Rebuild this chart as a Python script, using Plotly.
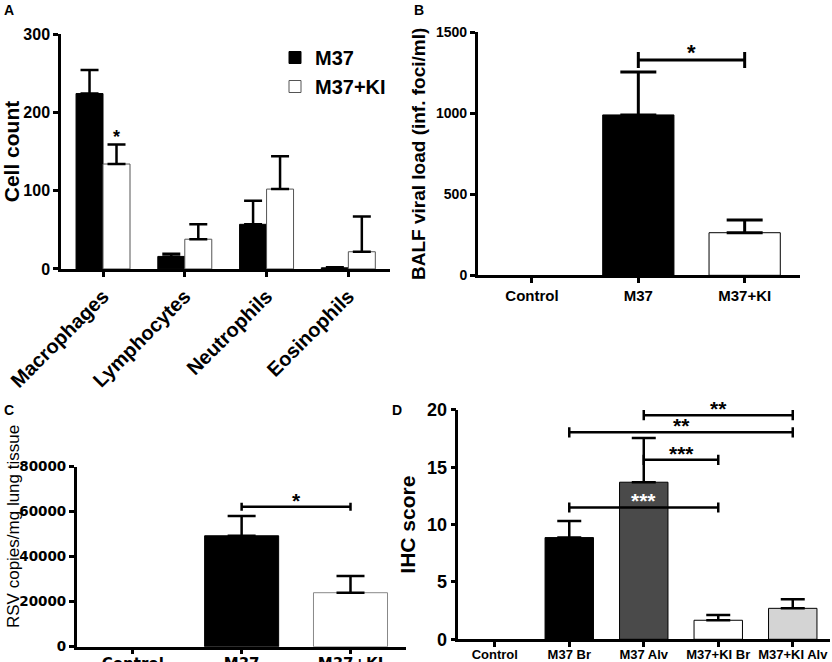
import plotly.graph_objects as go

# ---- data ----
# Panel A: BAL cell counts
a_cells = ["Macrophages", "Lymphocytes", "Neutrophils", "Eosinophils"]
a_m37 = [224, 16, 57, 1.5]
a_m37_err = [30, 3.5, 30, 0.8]
a_ki = [134, 38, 102, 22]
a_ki_err = [25, 19, 42, 45]

# Panel B: BALF viral load
b_groups = ["Control", "M37", "M37+KI"]
b_vals = [0, 990, 263]
b_err = [0, 265, 78]
b_sig = [("M37", "M37+KI", 1329, "*")]

# Panel C: RSV copies per mg lung tissue
c_groups = ["Control", "M37", "M37+KI"]
c_vals = [0, 49300, 24000]
c_err = [0, 8800, 7400]
c_sig = [("M37", "M37+KI", 62200, "*")]

# Panel D: IHC score
d_groups = ["Control", "M37 Br", "M37 Alv", "M37+KI Br", "M37+KI Alv"]
d_vals = [0, 8.87, 13.7, 1.66, 2.7]
d_err = [0, 1.45, 3.85, 0.46, 0.79]
d_colors = ["black", "black", "#4a4a4a", "white", "#d4d4d4"]
d_sig = [
    ("M37 Alv", "M37+KI Alv", 19.55, "**"),
    ("M37 Br", "M37+KI Alv", 18.05, "**"),
    ("M37 Alv", "M37+KI Br", 15.65, "***"),
    ("M37 Br", "M37+KI Br", 11.5, "***"),
]

BOLD = dict(family="Liberation Sans, Arial, sans-serif", color="black", weight="bold")


def nz(vals):
    # zero bars (Control) are not drawn at all
    return [v if v > 0 else None for v in vals]


def up_err(errs, **kw):
    # GraphPad style: upper error only
    return dict(type="data", array=errs, arrayminus=[0] * len(errs), symmetric=False,
                color="black", **kw)


fig = go.Figure()

# ---- panel A ----
fig.add_trace(go.Bar(
    x=a_cells, y=a_m37, name="M37", xaxis="x", yaxis="y",
    width=0.33, offset=-0.33,
    marker=dict(color="black", line=dict(color="black", width=1)),
    error_y=up_err(a_m37_err, thickness=2.5, width=9),
))
fig.add_trace(go.Bar(
    x=a_cells, y=a_ki, name="M37+KI", xaxis="x", yaxis="y",
    width=0.33, offset=0,
    marker=dict(color="white", line=dict(color="#555", width=1)),
    error_y=up_err(a_ki_err, thickness=2.5, width=9),
))

# ---- panel B ----
fig.add_trace(go.Bar(
    x=b_groups, y=nz(b_vals), xaxis="x2", yaxis="y2", width=0.67, showlegend=False,
    marker=dict(color=["black", "black", "white"], line=dict(color="black", width=1)),
    error_y=up_err(b_err, thickness=3, width=18),
))

# ---- panel C ----
fig.add_trace(go.Bar(
    x=c_groups, y=nz(c_vals), xaxis="x3", yaxis="y3", width=0.68, showlegend=False,
    marker=dict(color=["black", "black", "white"],
                line=dict(color=["black", "black", "#888"], width=1)),
    error_y=up_err(c_err, thickness=2.5, width=14),
))

# ---- panel D ----
fig.add_trace(go.Bar(
    x=d_groups, y=nz(d_vals), xaxis="x4", yaxis="y4", width=0.65, showlegend=False,
    marker=dict(color=d_colors, line=dict(color="black", width=1)),
    error_y=up_err(d_err, thickness=2.5, width=12),
))


def add_brackets(sigs, cats, xa, ya, half, size, lw, star_colors=None):
    for i, (c1, c2, h, txt) in enumerate(sigs):
        fig.add_trace(go.Scatter(
            x=[c1, c1, None, c1, c2, None, c2, c2],
            y=[h - half, h + half, None, h, h, None, h - half, h + half],
            mode="lines", line=dict(color="black", width=lw),
            xaxis=xa, yaxis=ya, showlegend=False, hoverinfo="skip",
        ))
        col = star_colors[i] if star_colors else "black"
        fig.add_annotation(
            x=(cats.index(c1) + cats.index(c2)) / 2, y=h,
            xref=xa, yref=ya, text=txt, showarrow=False,
            yanchor="bottom", yshift=-7,
            font=dict(size=size, family=BOLD["family"], color=col, weight="bold"),
        )


add_brackets(b_sig, b_groups, "x2", "y2", 50, 22, 3)
add_brackets(c_sig, c_groups, "x3", "y3", 1780, 21, 2.5)
add_brackets(d_sig, d_groups, "x4", "y4", 0.44, 21, 2.5,
             star_colors=["black", "black", "black", "white"])

# star above KI macrophages
fig.add_annotation(x=0.165, y=a_ki[0] + a_ki_err[0], xref="x", yref="y", text="*",
                   showarrow=False, yanchor="bottom", yshift=-5,
                   font=dict(size=18, family=BOLD["family"], color="black", weight="bold"))

# panel C y title sits above the axis centre in the original
fig.add_annotation(x=13 / 832, y=1 - 527 / 662, xref="paper", yref="paper",
                   xanchor="center", yanchor="middle",
                   text="RSV copies/mg lung tissue", textangle=-90, showarrow=False,
                   font=dict(size=17, family="Liberation Sans, Arial", color="black"))

# panel letters
for letter, px, py in [("A", 2, 10), ("B", 412, 10), ("C", 2, 410), ("D", 390, 410)]:
    fig.add_annotation(x=px / 832, y=1 - py / 662, xref="paper", yref="paper",
                       text=letter, showarrow=False, xanchor="left", yanchor="middle",
                       font=dict(size=14, family=BOLD["family"], color="black", weight="bold"))

axis_common = dict(showline=True, linecolor="black", linewidth=2.5, ticks="outside",
                   tickcolor="black", tickwidth=2.5, ticklen=5, showgrid=False,
                   zeroline=False, fixedrange=True, automargin=False)

fig.update_layout(
    width=832, height=662,
    margin=dict(l=0, r=0, t=0, b=0),
    plot_bgcolor="white", paper_bgcolor="white",
    barmode="overlay",
    legend=dict(x=275 / 832, y=1 - 38 / 662, xanchor="left", yanchor="top",
                font=dict(size=20, **BOLD), bgcolor="rgba(0,0,0,0)", tracegroupgap=0),
    xaxis=dict(domain=[0.0733, 0.4688], anchor="y", type="category", range=[-0.514, 3.51],
               tickangle=-45, tickfont=dict(size=20, **BOLD), **axis_common),
    yaxis=dict(domain=[0.5937, 0.9486], anchor="x", range=[0, 300], tickvals=[0, 100, 200, 300],
               tickfont=dict(size=16, **BOLD),
               title=dict(text="Cell count", font=dict(size=21, **BOLD), standoff=8), **axis_common),
    xaxis2=dict(domain=[0.5742, 0.9615], anchor="y2", type="category", range=[-0.51, 2.52],
                tickfont=dict(size=15, **BOLD), **axis_common),
    yaxis2=dict(domain=[0.5841, 0.9512], anchor="x2", range=[0, 1500], tickvals=[0, 500, 1000, 1500],
                tickfont=dict(size=14, **BOLD),
                title=dict(text="BALF viral load (inf. foci/ml)", font=dict(size=19, **BOLD), standoff=6),
                **axis_common),
    xaxis3=dict(domain=[0.0922, 0.488], anchor="y3", type="category", range=[-0.515, 2.51],
                ticklabelstandoff=-3,
                tickfont=dict(size=15, family="DejaVu Sans", color="black", weight="bold"), **axis_common),
    yaxis3=dict(domain=[0.0231, 0.295], anchor="x3", range=[0, 80000],
                tickvals=[0, 20000, 40000, 60000, 80000], tickformat="d",
                tickfont=dict(size=13.5, family="DejaVu Sans", color="black", weight="bold"),
                **axis_common),
    xaxis4=dict(domain=[0.5508, 0.9976], anchor="y4", type="category", range=[-0.49, 4.5],
                tickangle=0, ticklabelstandoff=-4, tickfont=dict(size=13, **BOLD), **axis_common),
    yaxis4=dict(domain=[0.0343, 0.3807], anchor="x4", range=[0, 20], tickvals=[0, 5, 10, 15, 20],
                tickfont=dict(size=18, **BOLD),
                title=dict(text="IHC score", font=dict(size=21, **BOLD), standoff=6), **axis_common),
)

# the page's default body margin would shift the figure by 8px
fig.write_html("out.html", config={"displayModeBar": False},
               post_script="document.body.style.margin='0';")
